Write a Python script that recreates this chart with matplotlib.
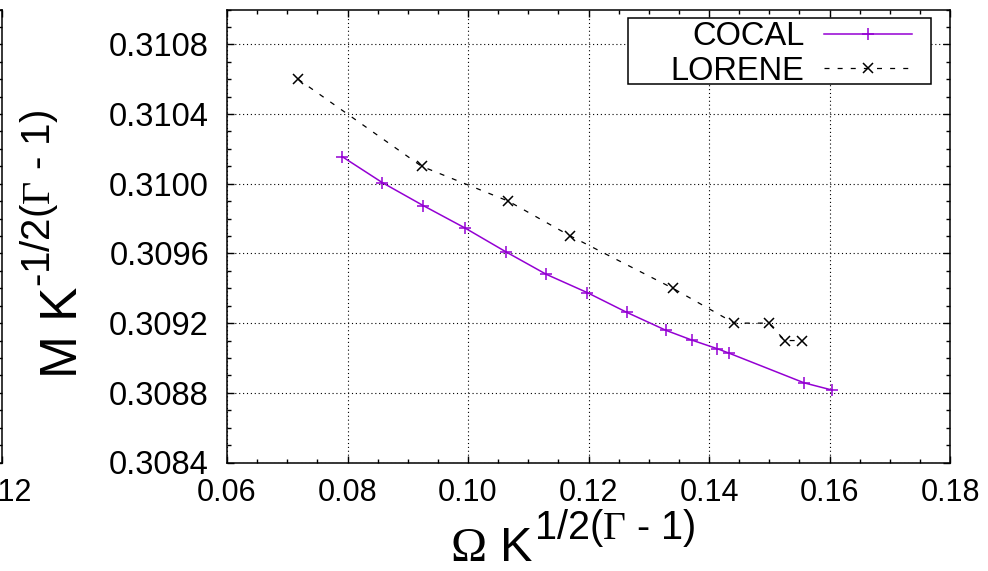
import numpy as np
import matplotlib
matplotlib.use("Agg")
import matplotlib.pyplot as plt
from matplotlib.patches import Rectangle
from matplotlib.ticker import MultipleLocator, FormatStrFormatter

plt.rcParams['font.family'] = ['Liberation Sans', 'DejaVu Sans']
plt.rcParams['mathtext.fontset'] = 'custom'
plt.rcParams['mathtext.rm'] = 'Liberation Serif'
plt.rcParams['mathtext.it'] = 'Liberation Serif'

# COCAL sequence
cocal_omega = [0.0791, 0.0858, 0.0926, 0.0995, 0.1063, 0.1130, 0.1198,
               0.1264, 0.1329, 0.1372, 0.1413, 0.1433, 0.1558, 0.1604]
cocal_mass = [0.310156, 0.310006, 0.309874, 0.309746, 0.309609, 0.309480,
              0.309375, 0.309261, 0.309158, 0.309102, 0.309054, 0.309028,
              0.308857, 0.308816]

# LORENE sequence
lorene_omega = [0.0718, 0.0923, 0.1067, 0.1170, 0.1340, 0.1442, 0.1499,
                0.1526, 0.1554]
lorene_mass = [0.3106, 0.3101, 0.3099, 0.3097, 0.3094, 0.3092, 0.3092,
               0.3091, 0.3091]

W, H = 988.0, 571.0
fig = plt.figure(figsize=(W / 100, H / 100), dpi=100)

# piece of the neighbouring panel, cut off at the left edge
ax0 = fig.add_axes([(2 - 500) / W, (H - 462.5) / H, 500 / W, 453 / H])
ax0.set_xlim(0.02, 0.12)
ax0.set_ylim(0.3084, 0.3110)
ax0.xaxis.set_major_locator(MultipleLocator(0.02))
ax0.xaxis.set_major_formatter(FormatStrFormatter('%.2f'))
ax0.yaxis.set_major_locator(MultipleLocator(0.0004))
ax0.yaxis.set_minor_locator(MultipleLocator(0.0001))
ax0.tick_params(which='both', direction='in', right=True, top=True,
                labelleft=False, width=1)
ax0.tick_params(which='major', length=5)
ax0.tick_params(which='minor', length=3)
ax0.tick_params(axis='x', labelsize=22, pad=11)
for s in ax0.spines.values():
    s.set_linewidth(1.1)

ax = fig.add_axes([227 / W, (H - 462.5) / H, 723 / W, 453 / H])

ax.plot(cocal_omega, cocal_mass, color='#9400d3', lw=1.1, marker='+',
        ms=8, mew=1.1, label='COCAL')
ax.plot(lorene_omega, lorene_mass, color='black', lw=0.9,
        linestyle=(0, (4, 6.5)), marker='x', ms=7, mew=1.1, label='LORENE')

ax.set_xlim(0.06, 0.18)
ax.set_ylim(0.3084, 0.3110)
ax.xaxis.set_major_locator(MultipleLocator(0.02))
ax.xaxis.set_minor_locator(MultipleLocator(0.005))
ax.xaxis.set_major_formatter(FormatStrFormatter('%.2f'))
ax.yaxis.set_minor_locator(MultipleLocator(0.0001))
ax.set_yticks(np.arange(0.3084, 0.31081, 0.0004))
ax.yaxis.set_major_formatter(FormatStrFormatter('%.4f'))

ax.tick_params(which='both', direction='in', top=True, right=True, width=1)
ax.tick_params(which='major', length=5)
ax.tick_params(which='minor', length=3)
ax.tick_params(axis='x', labelsize=22, pad=11)
ax.tick_params(axis='y', labelsize=23.5, pad=13)
for s in ax.spines.values():
    s.set_linewidth(1.1)

ax.grid(True, which='major', color='black', linestyle=(0, (1, 2.5)), lw=0.8)

# key box (gnuplot style, text right aligned)
ax.add_patch(Rectangle((0.5546, 0.8355), 0.4191, 0.1457, transform=ax.transAxes,
                       facecolor='white', edgecolor='black', lw=1.1, zorder=4.5))
leg = ax.legend(loc='upper right', bbox_to_anchor=(0.9475, 0.9746),
                borderaxespad=0, fontsize=23.5, markerfirst=False,
                handlelength=2.7, handletextpad=0.6, labelspacing=0.12,
                borderpad=0, frameon=False)

# axis labels: base text plus a raised, smaller exponent
xbase = fig.text(450 / W, (H - 561) / H, r'$\Omega$ K', fontsize=35,
                 ha='left', va='baseline')
ax.annotate(r'1/2($\Gamma$ - 1)', xy=(1, H - 539),
            xycoords=(xbase, 'figure pixels'), fontsize=28.5,
            ha='left', va='baseline', annotation_clip=False)

ybase = fig.text(77 / W, (H - 378) / H, 'M K', fontsize=37, rotation=90,
                 rotation_mode='anchor', ha='left', va='baseline')
ax.annotate(r'-1/2($\Gamma$ - 1)', xy=(50, 1),
            xycoords=('figure pixels', ybase), fontsize=29, rotation=90,
            rotation_mode='anchor', ha='left', va='baseline',
            annotation_clip=False)

fig.savefig('out.png', dpi=100)
